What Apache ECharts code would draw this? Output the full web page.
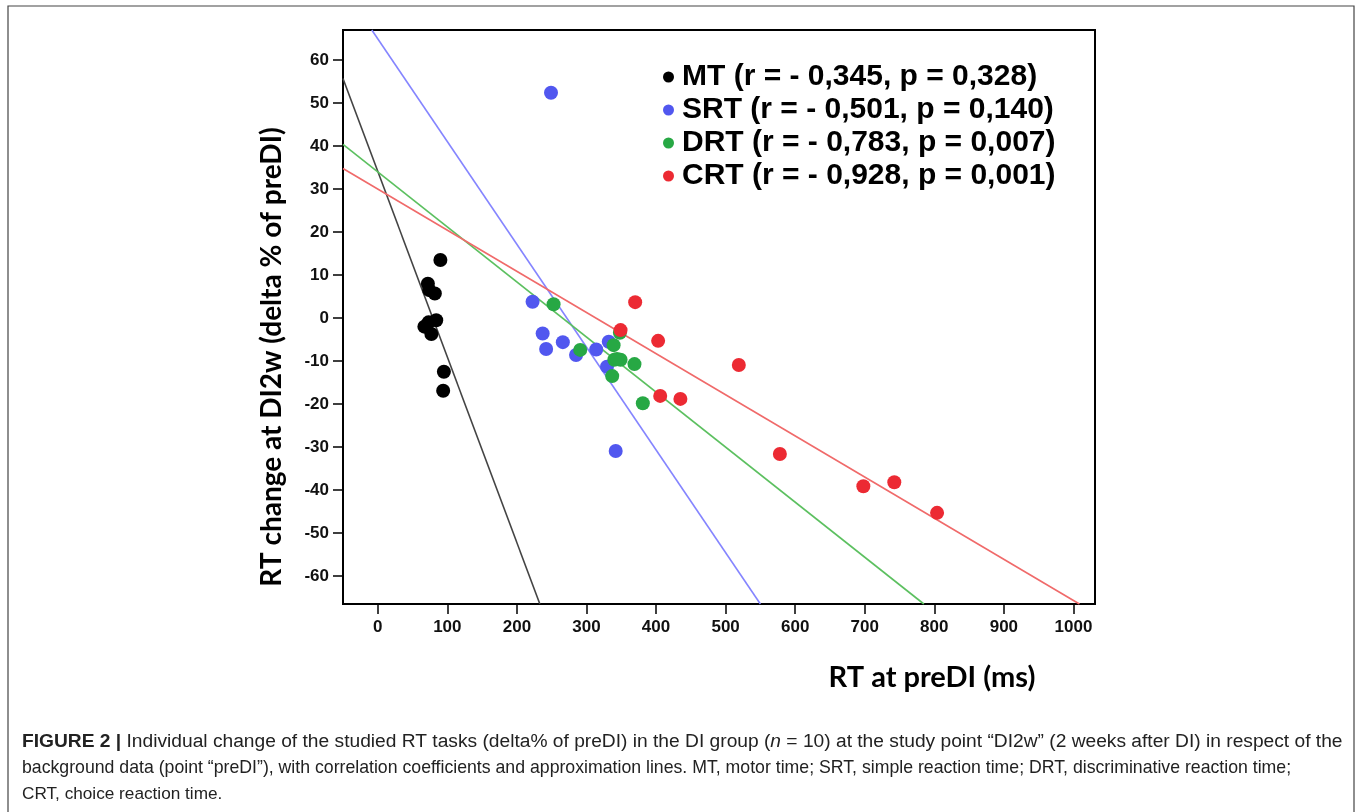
<!DOCTYPE html>
<html>
<head>
<meta charset="utf-8">
<script src="https://cdn.jsdelivr.net/npm/echarts@6/dist/echarts.min.js"></script>
<style>
html,body{margin:0;padding:0;background:#fff;}
#chart{width:1357px;height:812px;}
</style>
</head>
<body>
<div id="chart"></div>
<script>
// ---- data ----
const seriesNames = [
  'MT (r = - 0,345, p = 0,328)',
  'SRT (r = - 0,501, p = 0,140)',
  'DRT (r = - 0,783, p = 0,007)',
  'CRT (r = - 0,928, p = 0,001)'
];
const mtPoints = [[90,13.5],[72,8.0],[74,6.5],[82,5.7],[84,-0.5],[73,-1.0],[67,-2.0],[77,-3.7],[95,-12.5],[94,-16.9]];
const srtPoints = [[222.5,3.8],[237,-3.6],[242,-7.2],[266,-5.6],[285,-8.6],[314,-7.3],[332,-5.5],[329.5,-11.3],[342,-30.9],[249,52.4]];
const drtPoints = [[252.7,3.2],[291,-7.4],[339,-6.3],[340,-9.7],[349,-9.7],[369,-10.7],[337,-13.5],[381,-19.8],[348,-3.4],[344,-9.5]];
const crtPoints = [[370,3.7],[349,-2.8],[403,-5.3],[519,-10.9],[406,-18.1],[435,-18.8],[578,-31.6],[698,-39.1],[742.5,-38.2],[804,-45.3]];
// approximation lines: end points
const mtLine  = [[-50,55.7],[233,-66.5]];
const srtLine = [[-8.6,67],[550,-66.5]];
const drtLine = [[-50,40.4],[785,-66.5]];
const crtLine = [[-50,34.8],[1008.6,-66.5]];
const xTicks = [0,100,200,300,400,500,600,700,800,900,1000];
const yTicks = [-60,-50,-40,-30,-20,-10,0,10,20,30,40,50,60];
const captionLines = [
  '{b|FIGURE 2 |} Individual change of the studied RT tasks (delta% of preDI) in the DI group ({i|n} = 10) at the study point “DI2w” (2 weeks after DI) in respect of the',
  'background data (point “preDI”), with correlation coefficients and approximation lines. MT, motor time; SRT, simple reaction time; DRT, discriminative reaction time;',
  'CRT, choice reaction time.'
];

const pointColors = ['#000000','#5157ef','#27a844','#ec2a33'];
const lineColors  = ['#444444','#8585ff','#5cc060','#f06a6a'];

const chart = echarts.init(document.getElementById('chart'));
const sans = "'Liberation Sans',Arial,sans-serif";

function scatter(name, data, color){
  return {type:'scatter', name, data, symbolSize:14, itemStyle:{color, opacity:1}, z:5};
}
function fit(data, color){
  return {type:'line', data, symbol:'none', silent:true, lineStyle:{color, width:1.6}, z:4, clip:true};
}
function caption(text, top, size){
  return {type:'text', left:22, top, style:{
    text, font:size + "px " + sans, fill:'#222',
    rich:{b:{fontWeight:'bold', fontSize:size, fontFamily:sans, fill:'#222'}, i:{fontStyle:'italic', fontSize:size, fontFamily:sans, fill:'#222'}}
  }};
}

const option = {
  backgroundColor:'#ffffff',
  animation:false,
  grid:{left:343, top:30, right:262, bottom:208, show:true, borderColor:'#000', borderWidth:2, backgroundColor:'transparent'},
  xAxis:{
    type:'value', min:-50, max:1031,
    axisLine:{show:true, onZero:false, lineStyle:{color:'#000', width:2}},
    axisTick:{show:true, customValues:xTicks, length:10, inside:false, lineStyle:{color:'#000', width:1.5}},
    axisLabel:{customValues:xTicks, margin:15, color:'#111', fontSize:17, fontWeight:'bold', fontFamily:sans, formatter:v => String(v)},
    splitLine:{show:false}
  },
  yAxis:{
    type:'value', min:-66.5, max:67,
    axisLine:{show:true, onZero:false, lineStyle:{color:'#000', width:2}},
    axisTick:{show:true, customValues:yTicks, length:10, inside:false, lineStyle:{color:'#000', width:1.5}},
    axisLabel:{customValues:yTicks, margin:14, color:'#111', fontSize:17, fontWeight:'bold', fontFamily:sans, formatter:v => String(v)},
    splitLine:{show:false}
  },
  legend:{
    data:seriesNames, orient:'vertical', left:658, top:57,
    icon:'circle', itemWidth:11, itemHeight:11, itemGap:3,
    textStyle:{fontFamily:sans, fontWeight:'bold', fontSize:30, lineHeight:28, color:'#000', padding:[0,0,0,3]},
    selectedMode:false
  },
  graphic:[
    {type:'rect', shape:{x:8, y:6, width:1346, height:830}, style:{fill:'none', stroke:'#444', lineWidth:1.2}, silent:true},
    {type:'text', x:272, y:357, rotation:Math.PI/2, style:{text:'RT change at DI2w (delta % of preDI)', font:"bold 28px Lato, 'Open Sans', sans-serif", fill:'#000', align:'center', verticalAlign:'middle'}},
    {type:'text', x:932, y:678, style:{text:'RT at preDI (ms)', font:"bold 29px Lato, 'Open Sans', sans-serif", fill:'#000', align:'center', verticalAlign:'middle'}},
    caption(captionLines[0], 732, 19.2),
    caption(captionLines[1], 759, 17.7),
    caption(captionLines[2], 786, 17.2)
  ],
  series:[
    fit(mtLine, lineColors[0]), fit(srtLine, lineColors[1]), fit(drtLine, lineColors[2]), fit(crtLine, lineColors[3]),
    scatter(seriesNames[0], mtPoints, pointColors[0]),
    scatter(seriesNames[1], srtPoints, pointColors[1]),
    scatter(seriesNames[2], drtPoints, pointColors[2]),
    scatter(seriesNames[3], crtPoints, pointColors[3])
  ]
};
chart.setOption(option);
</script>
</body>
</html>
